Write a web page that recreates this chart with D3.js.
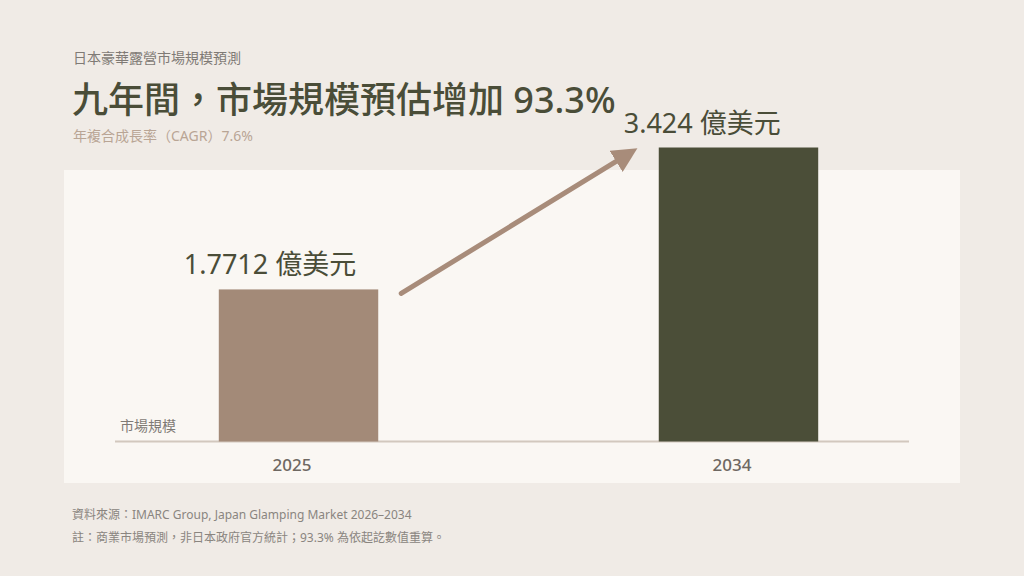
<!DOCTYPE html>
<html><head><meta charset="utf-8">
<script src="https://cdn.jsdelivr.net/npm/d3@7"></script>
<style>
html,body{margin:0;padding:0;background:#f0ebe6;}
svg{display:block;font-family:"Noto Sans","Noto Sans CJK TC",sans-serif;}
</style></head>
<body>
<svg id="chart" width="1024" height="576"></svg>
<script>
const years = ["2025", "2034"];
const values = [1.7712, 3.424];
const valueLabels = ["1.7712 億美元", "3.424 億美元"];
const barColors = ["#a38a78", "#4b4e38"];
const kicker = "日本豪華露營市場規模預測";
const title = "九年間，市場規模預估增加 93.3%";
const subtitle = "年複合成長率（CAGR）7.6%";
const yLabel = "市場規模";
const notes = ["資料來源：IMARC Group, Japan Glamping Market 2026–2034",
               "註：商業市場預測，非日本政府官方統計；93.3% 為依起訖數值重算。"];

const svg = d3.select("#chart");
svg.append("rect").attr("width",1024).attr("height",576).attr("fill","#f0ebe6");
svg.append("rect").attr("x",64).attr("y",170).attr("width",896).attr("height",313).attr("fill","#faf7f3");

const x = d3.scaleBand().domain(years).range([122, 915]).paddingInner(0.6376).paddingOuter(0.22);
const y = d3.scaleLinear().domain([0, 3.424]).range([441.5, 147.5]);

// baseline
svg.append("line").attr("x1",115).attr("x2",909).attr("y1",441.5).attr("y2",441.5)
  .attr("stroke","#d2c8be").attr("stroke-width",2);

// bars
svg.selectAll("rect.bar").data(values).join("rect").attr("class","bar")
  .attr("x",(d,i)=>x(years[i])).attr("width",x.bandwidth())
  .attr("y",d=>y(d)).attr("height",d=>y(0)-y(d))
  .attr("fill",(d,i)=>barColors[i]);

// value labels
svg.selectAll("text.val").data(values).join("text").attr("class","val")
  .attr("x",(d,i)=>x(years[i])-35).attr("y",d=>y(d)-15)
  .attr("font-size",27).attr("font-weight",400).attr("fill","#4a4d38")
  .text((d,i)=>valueLabels[i]);

// x axis labels
const xAxis = d3.axisBottom(x).tickSize(0).tickPadding(0);
const gx = svg.append("g").attr("transform","translate(-6.5,441.5)").call(xAxis);
gx.select(".domain").remove();
gx.selectAll("text").attr("y",29).attr("dy",0).attr("font-size",17).attr("font-weight",500)
  .attr("fill","#6e6862").attr("font-family",'"Noto Sans","Noto Sans CJK TC",sans-serif');

// y label
svg.append("text").attr("x",120).attr("y",431).attr("font-size",14).attr("fill","#7f7a75").text(yLabel);

// arrow
const defs = svg.append("defs");
defs.append("marker").attr("id","ah").attr("viewBox","0 0 10 10").attr("refX",5).attr("refY",5)
  .attr("markerWidth",5).attr("markerHeight",5).attr("orient","auto")
  .append("path").attr("d","M0,0 L10,5 L0,10 Z").attr("fill","#a88c7a");
const x1 = x(years[0]) + x.bandwidth() + 23, y1 = y(values[0]) + 4;
const x2 = x(years[1]) - 25, y2 = y(values[1]) + 3;
svg.append("line").attr("x1",x1).attr("y1",y1).attr("x2",x2 - 7).attr("y2",y2 + 4.3)
  .attr("stroke","#a88c7a").attr("stroke-width",5).attr("stroke-linecap","round")
  .attr("marker-end","url(#ah)");

// titles
svg.append("text").attr("x",73).attr("y",63).attr("font-size",14).attr("fill","#7f7a75").text(kicker);
svg.append("text").attr("x",72).attr("y",113).attr("font-size",36).attr("font-weight",500).attr("fill","#4a4d38").text(title);
svg.append("text").attr("x",73).attr("y",141).attr("font-size",14).attr("fill","#b9a595").text(subtitle);

// notes
svg.selectAll("text.note").data(notes).join("text").attr("class","note")
  .attr("x",72).attr("y",(d,i)=>519+i*23).attr("font-size",12).attr("fill","#8a8580").text(d=>d);
</script>
</body></html>
